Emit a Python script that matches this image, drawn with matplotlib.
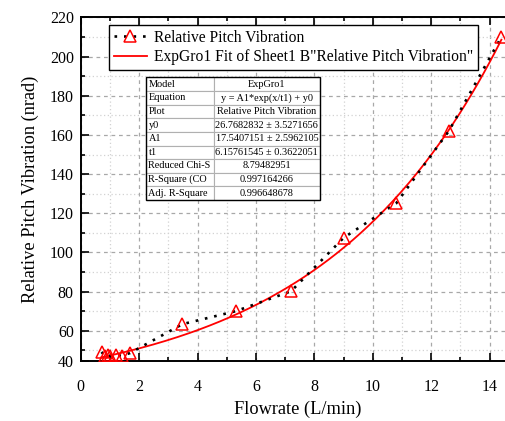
import numpy as np
import matplotlib
matplotlib.use('Agg')
from matplotlib import pyplot as plt
from matplotlib.patches import Rectangle

plt.rcParams['font.family'] = 'Liberation Serif'

# measured data
flow = [0.71, 0.82, 0.92, 1.0, 1.22, 1.4, 1.68, 3.48, 5.3, 7.2, 9.0, 10.8, 12.6, 14.4]
vib = [49.2, 47.2, 47.6, 47.2, 47.6, 47.3, 48.6, 63.4, 70.0, 80.2, 107.5, 125.1, 162.0, 210.0]

# ExpGro1 fit parameters
y0 = 26.7682832
A1 = 17.5407151
t1 = 6.15761545

tab_rows = [
    ['Model', 'ExpGro1'],
    ['Equation', 'y = A1*exp(x/t1) + y0'],
    ['Plot', 'Relative Pitch Vibration'],
    ['y0', '26.7682832 \u00b1 3.5271656'],
    ['A1', '17.5407151 \u00b1 2.5962105'],
    ['t1', '6.15761545 \u00b1 0.3622051'],
    ['Reduced Chi-S', '8.79482951'],
    ['R-Square (CO', '0.997164266'],
    ['Adj. R-Square', '0.996648678'],
]

ylo = 44.73
yticks = [60, 80, 100, 120, 140, 160, 180, 200, 220]

fig = plt.figure(figsize=(5.05, 4.21), dpi=100)
# axes run past the right edge of the picture, as in the original
ax = fig.add_axes([0.160, 0.1432, 0.86, 0.8157])

xf = np.linspace(0.7, 14.4, 200)
yf = A1 * np.exp(xf / t1) + y0

ax.plot(flow, vib, color='black', linestyle=(0, (1, 2.6)), linewidth=1.9,
        marker='^', markersize=8, markerfacecolor='none', markeredgecolor='red',
        markeredgewidth=1.1, label='Relative Pitch Vibration', zorder=3)
ax.plot(xf, yf, color='red', linewidth=1.3,
        label='ExpGro1 Fit of Sheet1 B"Relative Pitch Vibration"', zorder=2)

ax.set_xlim(0, 14.87)
ax.set_ylim(ylo, 220.05)
ax.set_xticks(np.arange(0, 15, 2))
ax.set_xticks(np.arange(1, 15, 2), minor=True)
ax.set_yticks([ylo] + yticks)
ax.set_yticklabels(['40'] + [str(v) for v in yticks])
ax.set_yticks(np.arange(50, 220, 20), minor=True)

ax.grid(which='major', color='#a8a8a8', linestyle=(0, (3, 3)), linewidth=0.9)
ax.grid(which='minor', color='#d2d2d2', linestyle=(0, (1, 2)), linewidth=0.9)
ax.tick_params(which='both', direction='in', top=True, right=True,
               labelsize=11.5, width=1.2)
ax.tick_params(which='major', length=6)
ax.tick_params(which='minor', length=3)
ax.tick_params(axis='x', pad=13)
ax.tick_params(axis='y', pad=5)
for s in ax.spines.values():
    s.set_linewidth(1.4)

ax.set_xlabel('Flowrate (L/min)', fontsize=13.2, labelpad=4)
ax.set_ylabel('Relative Pitch Vibration (nrad)', fontsize=13.2, labelpad=8)

leg = ax.legend(loc='upper left', bbox_to_anchor=(0.066, 0.977), fontsize=11.2,
                frameon=True, fancybox=False, edgecolor='black', framealpha=1,
                handlelength=2.1, borderpad=0.3, labelspacing=0.2,
                handletextpad=0.45, borderaxespad=0)
leg.get_frame().set_linewidth(1.0)

bx = [0.151, 0.468, 0.399, 0.357]
tb = ax.table(cellText=tab_rows, bbox=bx, colWidths=[0.39, 0.61], zorder=5)
tb.auto_set_font_size(False)
for (r, c), cell in tb.get_celld().items():
    cell.set_edgecolor('#b0b0b0')
    cell.set_linewidth(0.8)
    cell.get_text().set_fontsize(7.4)
    cell.get_text().set_fontfamily('Liberation Serif')
    if c == 0:
        cell.get_text().set_ha('left')
        cell.PAD = 0.03
    else:
        cell.get_text().set_ha('center')
ax.add_patch(Rectangle((bx[0], bx[1]), bx[2], bx[3], transform=ax.transAxes,
                       fill=False, edgecolor='black', linewidth=1.0, zorder=6))

fig.savefig('out.png', dpi=100)
